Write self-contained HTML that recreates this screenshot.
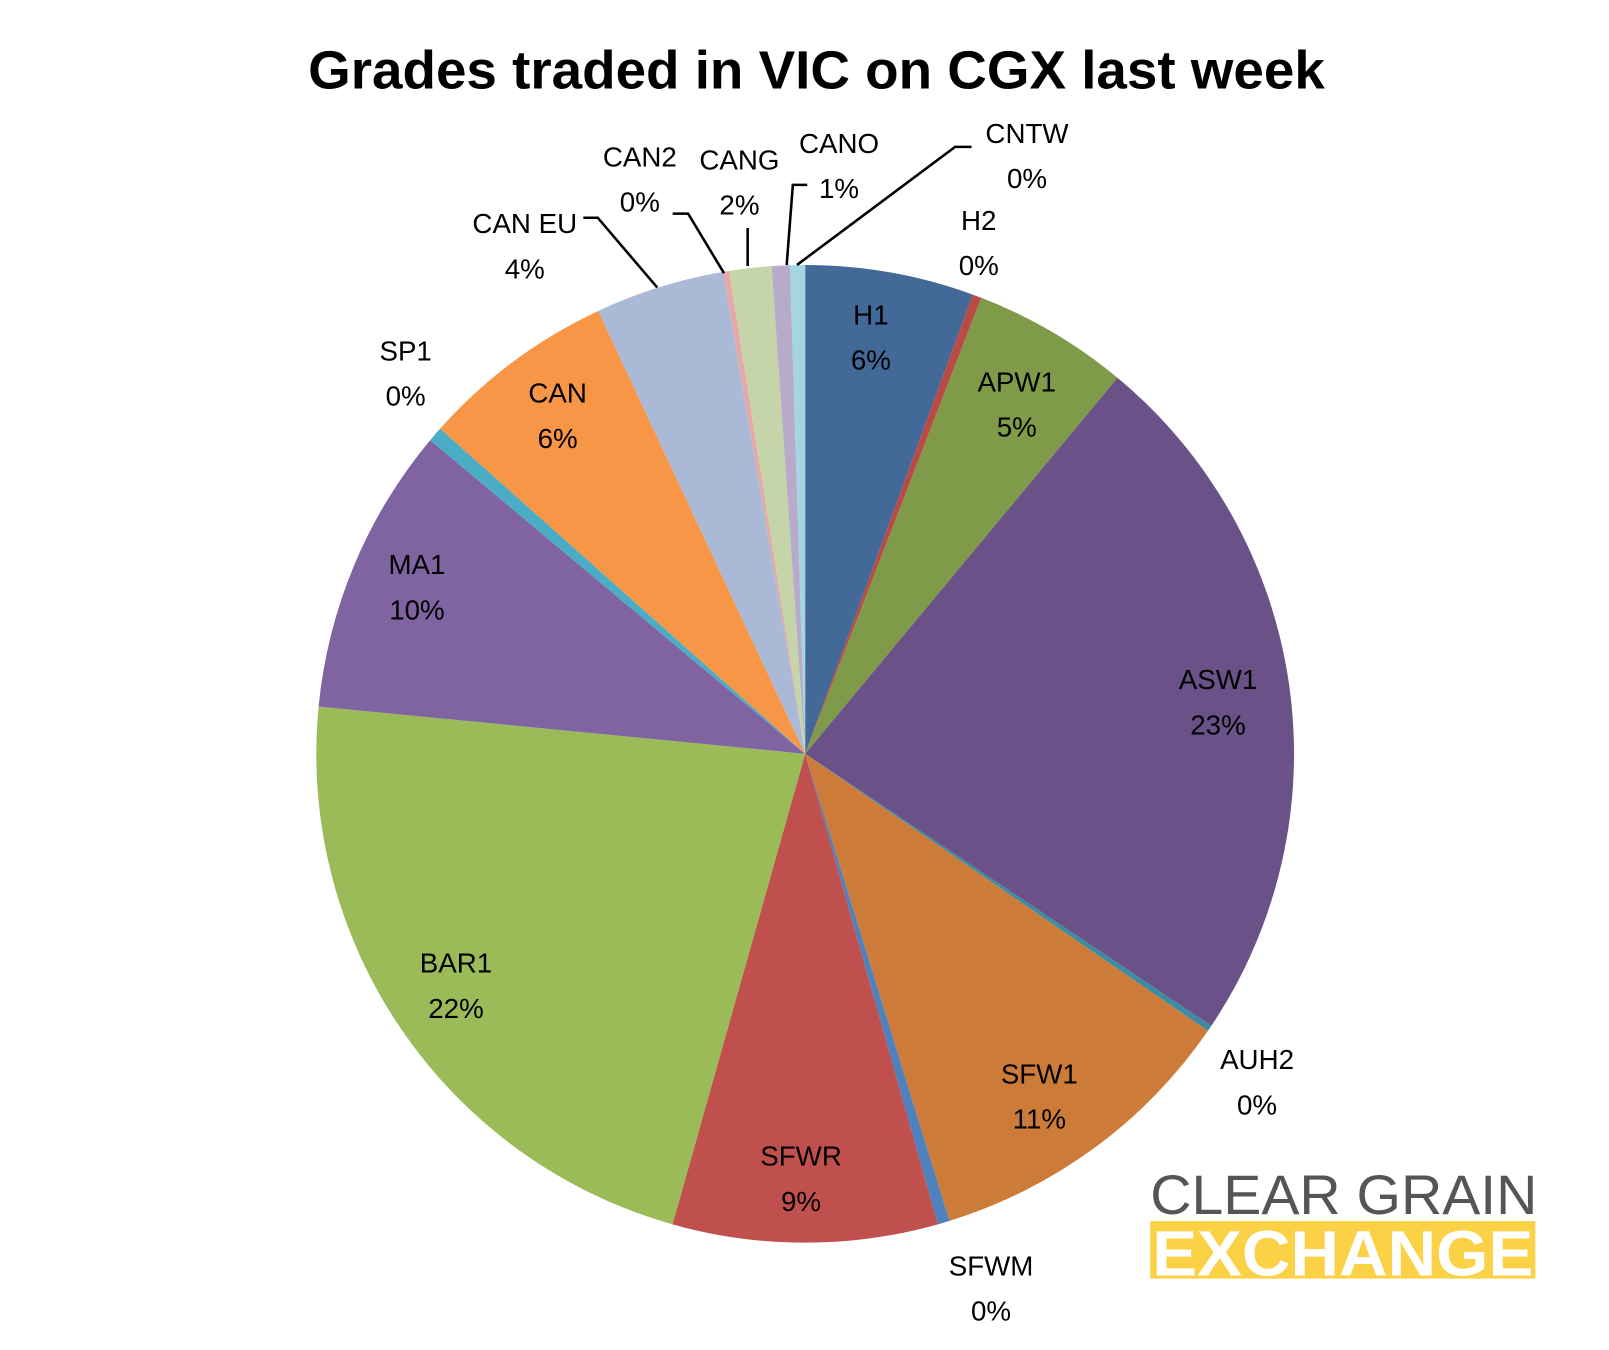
<!DOCTYPE html>
<html><head><meta charset="utf-8"><style>
body{margin:0;background:#fff;width:1609px;height:1350px;overflow:hidden}
svg{display:block;font-family:"Liberation Sans",sans-serif}
</style></head><body>
<svg id="chart" width="1609" height="1350" viewBox="0 0 1609 1350">
<g transform="scale(1.027)">
<text x="300" y="86" font-size="52" font-weight="bold" fill="#000" textLength="990" lengthAdjust="spacingAndGlyphs">Grades traded in VIC on CGX last week</text>
<g id="slices"></g>
<g id="leaders" stroke="#000" stroke-width="2.5" fill="none">
<polyline points="568,212 582,212 640,280"/>
<polyline points="655,208 670,208 705,266"/>
<polyline points="728,222 728,259"/>
<polyline points="766,258 772,180 786,180"/>
<polyline points="776,258 930,143 946,143"/>
</g>
<g id="labels" font-size="27" fill="#000" text-anchor="middle"></g>
<g>
<text x="1120" y="1182" font-size="54" fill="#555" textLength="377" lengthAdjust="spacingAndGlyphs">CLEAR GRAIN</text>
<rect x="1120" y="1189" width="375" height="56" fill="#FBD146"/>
<text x="1122" y="1242" font-size="62" font-weight="bold" fill="#fff" textLength="371" lengthAdjust="spacingAndGlyphs">EXCHANGE</text>
</g>
</g>
</svg>
<script>
const categories=["H1","H2","APW1","ASW1","AUH2","SFW1","SFWM","SFWR","BAR1","MA1","SP1","CAN","CAN EU","CAN2","CANG","CANO","CNTW"];
const values=[5.6,0.3,5.2,23.5,0.2,10.7,0.4,8.8,22.3,9.6,0.5,6.5,4.3,0.2,1.4,0.6,0.5];
const pctLabels=["6%","0%","5%","23%","0%","11%","0%","9%","22%","10%","0%","6%","4%","0%","2%","1%","0%"];
const colors=["#436998","#B94A45","#7F9A48","#6A5187","#3C8DA3","#CC7B38","#4F81BD","#C0504D","#9BBB59","#8064A2","#4BACC6","#F79646","#AAB9D6","#E6A8A7","#C6D5A9","#B8ABC9","#A5D5E2"];
const labelPos=[[848,307],[953,215],[990,372],[1186,662],[1224,1032],[1012,1046],[965,1233],[780,1126],[444,938],[406,550],[395,342],[543,383],[511,218],[623,153],[720,156],[817,140],[1000,130]];
const cx=784,cy=734,R=476;
const NS="http://www.w3.org/2000/svg";
const total=values.reduce((a,b)=>a+b,0);
function pt(frac){const a=frac*2*Math.PI;return [cx+R*Math.sin(a),cy-R*Math.cos(a)];}
const gs=document.getElementById('slices'),gl=document.getElementById('labels');
let acc=0;
values.forEach((v,i)=>{
  const f0=acc/total;acc+=v;const f1=acc/total;
  const p0=pt(f0),p1=pt(f1);
  const large=(f1-f0)>0.5?1:0;
  const p=document.createElementNS(NS,'path');
  p.setAttribute('d',`M${cx},${cy}L${p0[0]},${p0[1]}A${R},${R} 0 ${large} 1 ${p1[0]},${p1[1]}Z`);
  p.setAttribute('fill',colors[i]);
  
  
  gs.appendChild(p);
  const t=document.createElementNS(NS,'text');
  
  
  const [x,y]=labelPos[i];
  t.setAttribute('x',x);t.setAttribute('y',y+9);
  t.textContent=categories[i];
  gl.appendChild(t);
  const t2=document.createElementNS(NS,'text');
  
  
  t2.setAttribute('x',x);t2.setAttribute('y',y+53);
  t2.textContent=pctLabels[i];
  gl.appendChild(t2);
});
</script>
</body></html>
